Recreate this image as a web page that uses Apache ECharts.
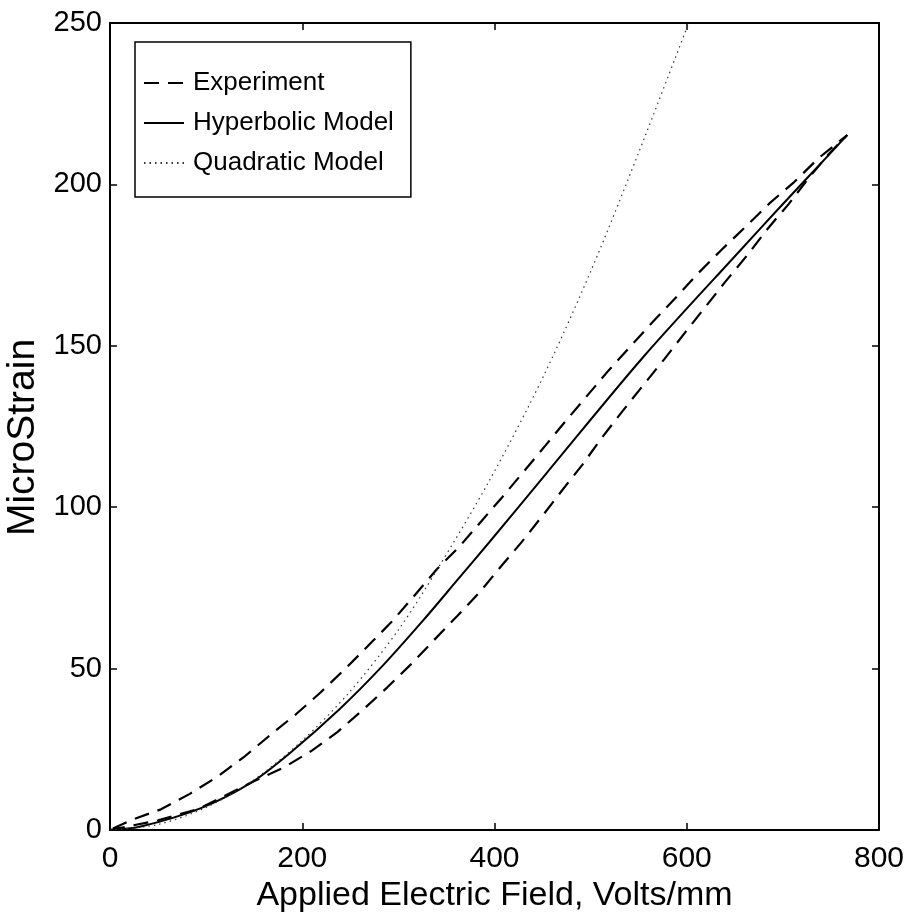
<!DOCTYPE html>
<html><head><meta charset="utf-8">
<script src="https://cdn.jsdelivr.net/npm/echarts@6/dist/echarts.min.js"></script>
<style>html,body{margin:0;padding:0;background:#fff}#c{width:906px;height:912px}</style>
</head><body><div id="c"></div>
<script>
// Axis ticks
const xTickValues = [0, 200, 400, 600, 800];
const yTickValues = [0, 50, 100, 150, 200, 250];
const xTitle = 'Applied Electric Field, Volts/mm';
const yTitle = 'MicroStrain';
const seriesNames = ['Experiment', 'Hyperbolic Model', 'Quadratic Model'];

// Experiment: hysteresis loop (ascending lower branch, then descending upper branch)
const experimentX = [0,20,50,92,149,181,210,236.5,263,288.5,313,337,361,385,406,428,449,470,491.5,511.6,533,555,576.5,598,619,640,662.5,684,706,727,748,767,
  737,712,686,662,636,610,588,565,541,518.5,496,473.5,452.7,430,408,385,363.5,340,317,293,268,243.5,219,194,167,140.5,112.7,83,53,24,0];
const experimentY = [0,1.2,3.0,6.5,15,19.4,24.6,30.3,37.2,44.2,51.3,58.8,66.2,73.8,81.4,89.1,97.0,105.1,113.2,121.5,129.7,137.9,145.8,154.0,161.9,169.8,177.9,186.2,193.9,202.0,209.5,215.3,
  208.1,200.8,194.1,187.1,179.7,171.9,164.7,157.5,149.7,142.3,134.4,126.5,119,110.9,103.1,95.2,87.8,80.8,72.7,64.5,56.9,49.6,42.6,36.0,29.5,22.9,16.7,11.2,6.4,3.3,0];

// Hyperbolic model
const hyperbolicX = [0,31,94,146,187,239,284,326,361,395,454,555,657,694,752.7,767];
const hyperbolicY = [0,1,6.7,14.5,23.8,37.5,51.0,65.0,77.3,89.3,110.5,146.6,180,192,210.7,215.3];

// Quadratic model
const quadraticX = [0,50,100,150,200,250,300,340,395,450,500,549,602];
const quadraticY = [0,1.7,7,15.6,27.7,43,62,80.5,108.4,140,173,209.1,250];

const zip = (xs, ys) => xs.map((x, i) => [x, ys[i]]);
const FONT = '"Liberation Sans", Arial, Helvetica, sans-serif';

const chart = echarts.init(document.getElementById('c'), null, {renderer: 'canvas'});

function frameAxis(extra) {
  return Object.assign({
    axisLine: {show: true, onZero: false, lineStyle: {color: '#000', width: 2}},
    axisTick: {show: true, inside: true, length: 7, lineStyle: {color: '#000', width: 1.5}},
    splitLine: {show: false},
    minorTick: {show: false}
  }, extra);
}

chart.setOption({
  backgroundColor: '#fff',
  animation: false,
  grid: {left: 110, right: 27, top: 23, bottom: 82, containLabel: false, outerBoundsMode: 'none'},
  legend: {
    data: seriesNames.map(n => ({name: n, itemStyle: {opacity: 0}})),
    orient: 'vertical',
    left: 135, top: 42,
    padding: [28, 17, 21, 8],
    itemGap: 14,
    itemWidth: 40, itemHeight: 14,
    itemStyle: {opacity: 0},
    borderColor: '#000', borderWidth: 1.5,
    backgroundColor: '#fff',
    textStyle: {fontFamily: FONT, fontSize: 26, color: '#000', lineHeight: 26, padding: [0, 0, 0, 4]}
  },
  xAxis: [
    frameAxis({
      type: 'value', position: 'bottom', min: 0, max: 800, interval: 200,
      axisLabel: {show: true, fontFamily: FONT, fontSize: 30, color: '#000', margin: 14,
        formatter: v => xTickValues.includes(v) ? String(v) : ''},
      name: xTitle, nameLocation: 'middle', nameGap: 42,
      nameTextStyle: {fontFamily: FONT, fontSize: 34, color: '#000'}
    }),
    frameAxis({
      type: 'value', position: 'top', min: 0, max: 800, interval: 200,
      axisLabel: {show: false}
    })
  ],
  yAxis: [
    frameAxis({
      type: 'value', position: 'left', min: 0, max: 250, interval: 50,
      axisLabel: {show: true, fontFamily: FONT, fontSize: 29, color: '#000', margin: 8,
        formatter: v => yTickValues.includes(v) ? String(v) : ''},
      name: yTitle, nameLocation: 'middle', nameGap: 66, nameRotate: 90,
      nameTextStyle: {fontFamily: FONT, fontSize: 39, color: '#000', padding: [0, 22, 0, 0]}
    }),
    frameAxis({
      type: 'value', position: 'right', min: 0, max: 250, interval: 50,
      axisLabel: {show: false}
    })
  ],
  series: [
    {
      name: seriesNames[0], type: 'line', xAxisIndex: 0, yAxisIndex: 0,
      data: zip(experimentX, experimentY), symbol: 'none', smooth: false,
      lineStyle: {color: '#000', width: 2.2, type: [15, 9]},
      itemStyle: {color: '#000'}, clip: true
    },
    {
      name: seriesNames[1], type: 'line', xAxisIndex: 0, yAxisIndex: 0,
      data: zip(hyperbolicX, hyperbolicY), symbol: 'none', smooth: 0.3,
      lineStyle: {color: '#000', width: 2},
      itemStyle: {color: '#000'}, clip: true
    },
    {
      name: seriesNames[2], type: 'line', xAxisIndex: 0, yAxisIndex: 0,
      data: zip(quadraticX, quadraticY), symbol: 'none', smooth: 0.3,
      lineStyle: {color: '#333', width: 1.2, type: [1.5, 4]},
      itemStyle: {color: '#333'}, clip: true
    }
  ]
});
</script>
</body></html>
